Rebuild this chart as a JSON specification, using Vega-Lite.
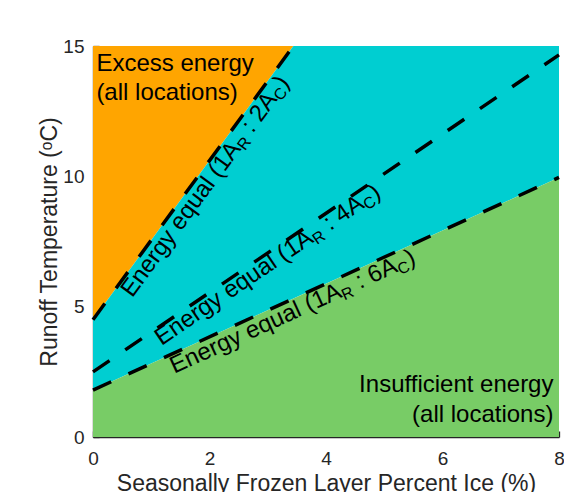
{
  "$schema": "https://vega.github.io/schema/vega-lite/v6.json",
  "width": 466,
  "height": 391,
  "autosize": "none",
  "padding": {"left": 93, "top": 46, "right": 5, "bottom": 55},
  "background": "white",
  "config": {
    "view": {"stroke": null},
    "font": "Liberation Sans",
    "axis": {
      "domainColor": "#262626", "domainWidth": 1.3,
      "tickColor": "#262626", "tickWidth": 1.3, "tickSize": -6,
      "labelColor": "#262626", "labelFont": "Liberation Sans", "labelFontSize": 19,
      "titleColor": "#262626", "titleFont": "Liberation Sans", "titleFontSize": 23, "titleFontWeight": "normal",
      "grid": false, "zindex": 1, "labelFlush": false, "labelOverlap": false, "format": "d"
    }
  },
  "datasets": {
    "regions": [
      {"region": "excess", "x": 0, "lower": 4.5, "upper": 15},
      {"region": "excess", "x": 3.44, "lower": 15, "upper": 15},
      {"region": "mid", "x": 0, "lower": 1.8, "upper": 4.5},
      {"region": "mid", "x": 3.44, "lower": 5.31, "upper": 15},
      {"region": "mid", "x": 8, "lower": 9.96, "upper": 15},
      {"region": "insufficient", "x": 0, "lower": 0, "upper": 1.8},
      {"region": "insufficient", "x": 8, "lower": 0, "upper": 9.96}
    ],
    "lines": [
      {"line": "l1", "x": 0, "y": 4.5},
      {"line": "l1", "x": 3.44, "y": 15},
      {"line": "l2", "x": 0, "y": 2.5},
      {"line": "l2", "x": 8, "y": 14.66},
      {"line": "l3", "x": 0, "y": 1.8},
      {"line": "l3", "x": 8, "y": 9.96}
    ],
    "labels": [
      {"line": "l1", "part": "main", "x": 0.41, "y": 5.75, "text": "Energy equal (1A\u2002 : 2A\u2002)"},
      {"line": "l1", "part": "sub", "x": 2.2907, "y": 11.4866, "text": "R"},
      {"line": "l1", "part": "sub", "x": 2.9137, "y": 13.3868, "text": "C"},
      {"line": "l2", "part": "main", "x": 1.01, "y": 4.035, "text": "Energy equal (1A\u2002 : 4A\u2002)"},
      {"line": "l2", "part": "sub", "x": 3.6416, "y": 8.0352, "text": "R"},
      {"line": "l2", "part": "sub", "x": 4.5131, "y": 9.3599, "text": "C"},
      {"line": "l3", "part": "main", "x": 1.26, "y": 3.0852, "text": "Energy equal (1A\u2002 : 6A\u2002)"},
      {"line": "l3", "part": "sub", "x": 4.1554, "y": 6.0385, "text": "R"},
      {"line": "l3", "part": "sub", "x": 5.1144, "y": 7.0167, "text": "C"}
    ],
    "notesLeft": [
      {"x": 0.058, "y": 14.04, "text": "Excess energy\n(all locations)"}
    ],
    "notesRight": [
      {"x": 7.905, "y": 1.726, "text": "Insufficient energy\n(all locations)"}
    ]
  },
  "layer": [
    {
      "data": {"name": "regions"},
      "mark": {"type": "area", "opacity": 1},
      "encoding": {
        "x": {"field": "x", "type": "quantitative", "scale": {"domain": [0, 8], "nice": false},
          "axis": {"values": [0, 2, 4, 6, 8], "labelPadding": 18, "titlePadding": 4},
          "title": "Seasonally Frozen Layer Percent Ice (%)"},
        "y": {"field": "lower", "type": "quantitative", "stack": null, "scale": {"domain": [0, 15], "nice": false},
          "axis": {"values": [0, 5, 10, 15], "labelPadding": 15, "titlePadding": 1},
          "title": "Runoff Temperature (ᵒC)"},
        "y2": {"field": "upper"},
        "color": {"field": "region", "type": "nominal",
          "scale": {"domain": ["excess", "mid", "insufficient"], "range": ["#FFA500", "#00CED1", "#78CC66"]},
          "legend": null}
      }
    },
    {
      "data": {"name": "lines"},
      "mark": {"type": "line", "stroke": "black", "strokeWidth": 3.5, "strokeDash": [20, 19], "strokeCap": "butt"},
      "encoding": {
        "x": {"field": "x", "type": "quantitative"},
        "y": {"field": "y", "type": "quantitative"},
        "detail": {"field": "line"}
      }
    },
    {
      "data": {"name": "labels"},
      "transform": [{"filter": "datum.line == 'l1' && datum.part == 'main'"}],
      "mark": {"type": "text", "angle": 306.23, "align": "left", "baseline": "alphabetic", "dy": 19, "fontSize": 24, "font": "Liberation Sans", "color": "black"},
      "encoding": {"x": {"field": "x", "type": "quantitative"}, "y": {"field": "y", "type": "quantitative"}, "text": {"field": "text"}}
    },
    {
      "data": {"name": "labels"},
      "transform": [{"filter": "datum.line == 'l1' && datum.part == 'sub'"}],
      "mark": {"type": "text", "angle": 306.23, "align": "left", "baseline": "alphabetic", "dy": 23, "fontSize": 16, "font": "Liberation Sans", "color": "black"},
      "encoding": {"x": {"field": "x", "type": "quantitative"}, "y": {"field": "y", "type": "quantitative"}, "text": {"field": "text"}}
    },
    {
      "data": {"name": "labels"},
      "transform": [{"filter": "datum.line == 'l2' && datum.part == 'main'"}],
      "mark": {"type": "text", "angle": 325.78, "align": "left", "baseline": "alphabetic", "dy": 17, "fontSize": 24, "font": "Liberation Sans", "color": "black"},
      "encoding": {"x": {"field": "x", "type": "quantitative"}, "y": {"field": "y", "type": "quantitative"}, "text": {"field": "text"}}
    },
    {
      "data": {"name": "labels"},
      "transform": [{"filter": "datum.line == 'l2' && datum.part == 'sub'"}],
      "mark": {"type": "text", "angle": 325.78, "align": "left", "baseline": "alphabetic", "dy": 21, "fontSize": 16, "font": "Liberation Sans", "color": "black"},
      "encoding": {"x": {"field": "x", "type": "quantitative"}, "y": {"field": "y", "type": "quantitative"}, "text": {"field": "text"}}
    },
    {
      "data": {"name": "labels"},
      "transform": [{"filter": "datum.line == 'l3' && datum.part == 'main'"}],
      "mark": {"type": "text", "angle": 335.46, "align": "left", "baseline": "alphabetic", "dy": 19, "fontSize": 24, "font": "Liberation Sans", "color": "black"},
      "encoding": {"x": {"field": "x", "type": "quantitative"}, "y": {"field": "y", "type": "quantitative"}, "text": {"field": "text"}}
    },
    {
      "data": {"name": "labels"},
      "transform": [{"filter": "datum.line == 'l3' && datum.part == 'sub'"}],
      "mark": {"type": "text", "angle": 335.46, "align": "left", "baseline": "alphabetic", "dy": 23, "fontSize": 16, "font": "Liberation Sans", "color": "black"},
      "encoding": {"x": {"field": "x", "type": "quantitative"}, "y": {"field": "y", "type": "quantitative"}, "text": {"field": "text"}}
    },
    {
      "data": {"name": "notesLeft"},
      "mark": {"type": "text", "align": "left", "baseline": "alphabetic", "fontSize": 24, "lineHeight": 29, "lineBreak": "\n", "font": "Liberation Sans", "color": "black"},
      "encoding": {"x": {"field": "x", "type": "quantitative"}, "y": {"field": "y", "type": "quantitative"}, "text": {"field": "text"}}
    },
    {
      "data": {"name": "notesRight"},
      "mark": {"type": "text", "align": "right", "baseline": "alphabetic", "fontSize": 24, "lineHeight": 30, "lineBreak": "\n", "font": "Liberation Sans", "color": "black"},
      "encoding": {"x": {"field": "x", "type": "quantitative"}, "y": {"field": "y", "type": "quantitative"}, "text": {"field": "text"}}
    }
  ]
}
